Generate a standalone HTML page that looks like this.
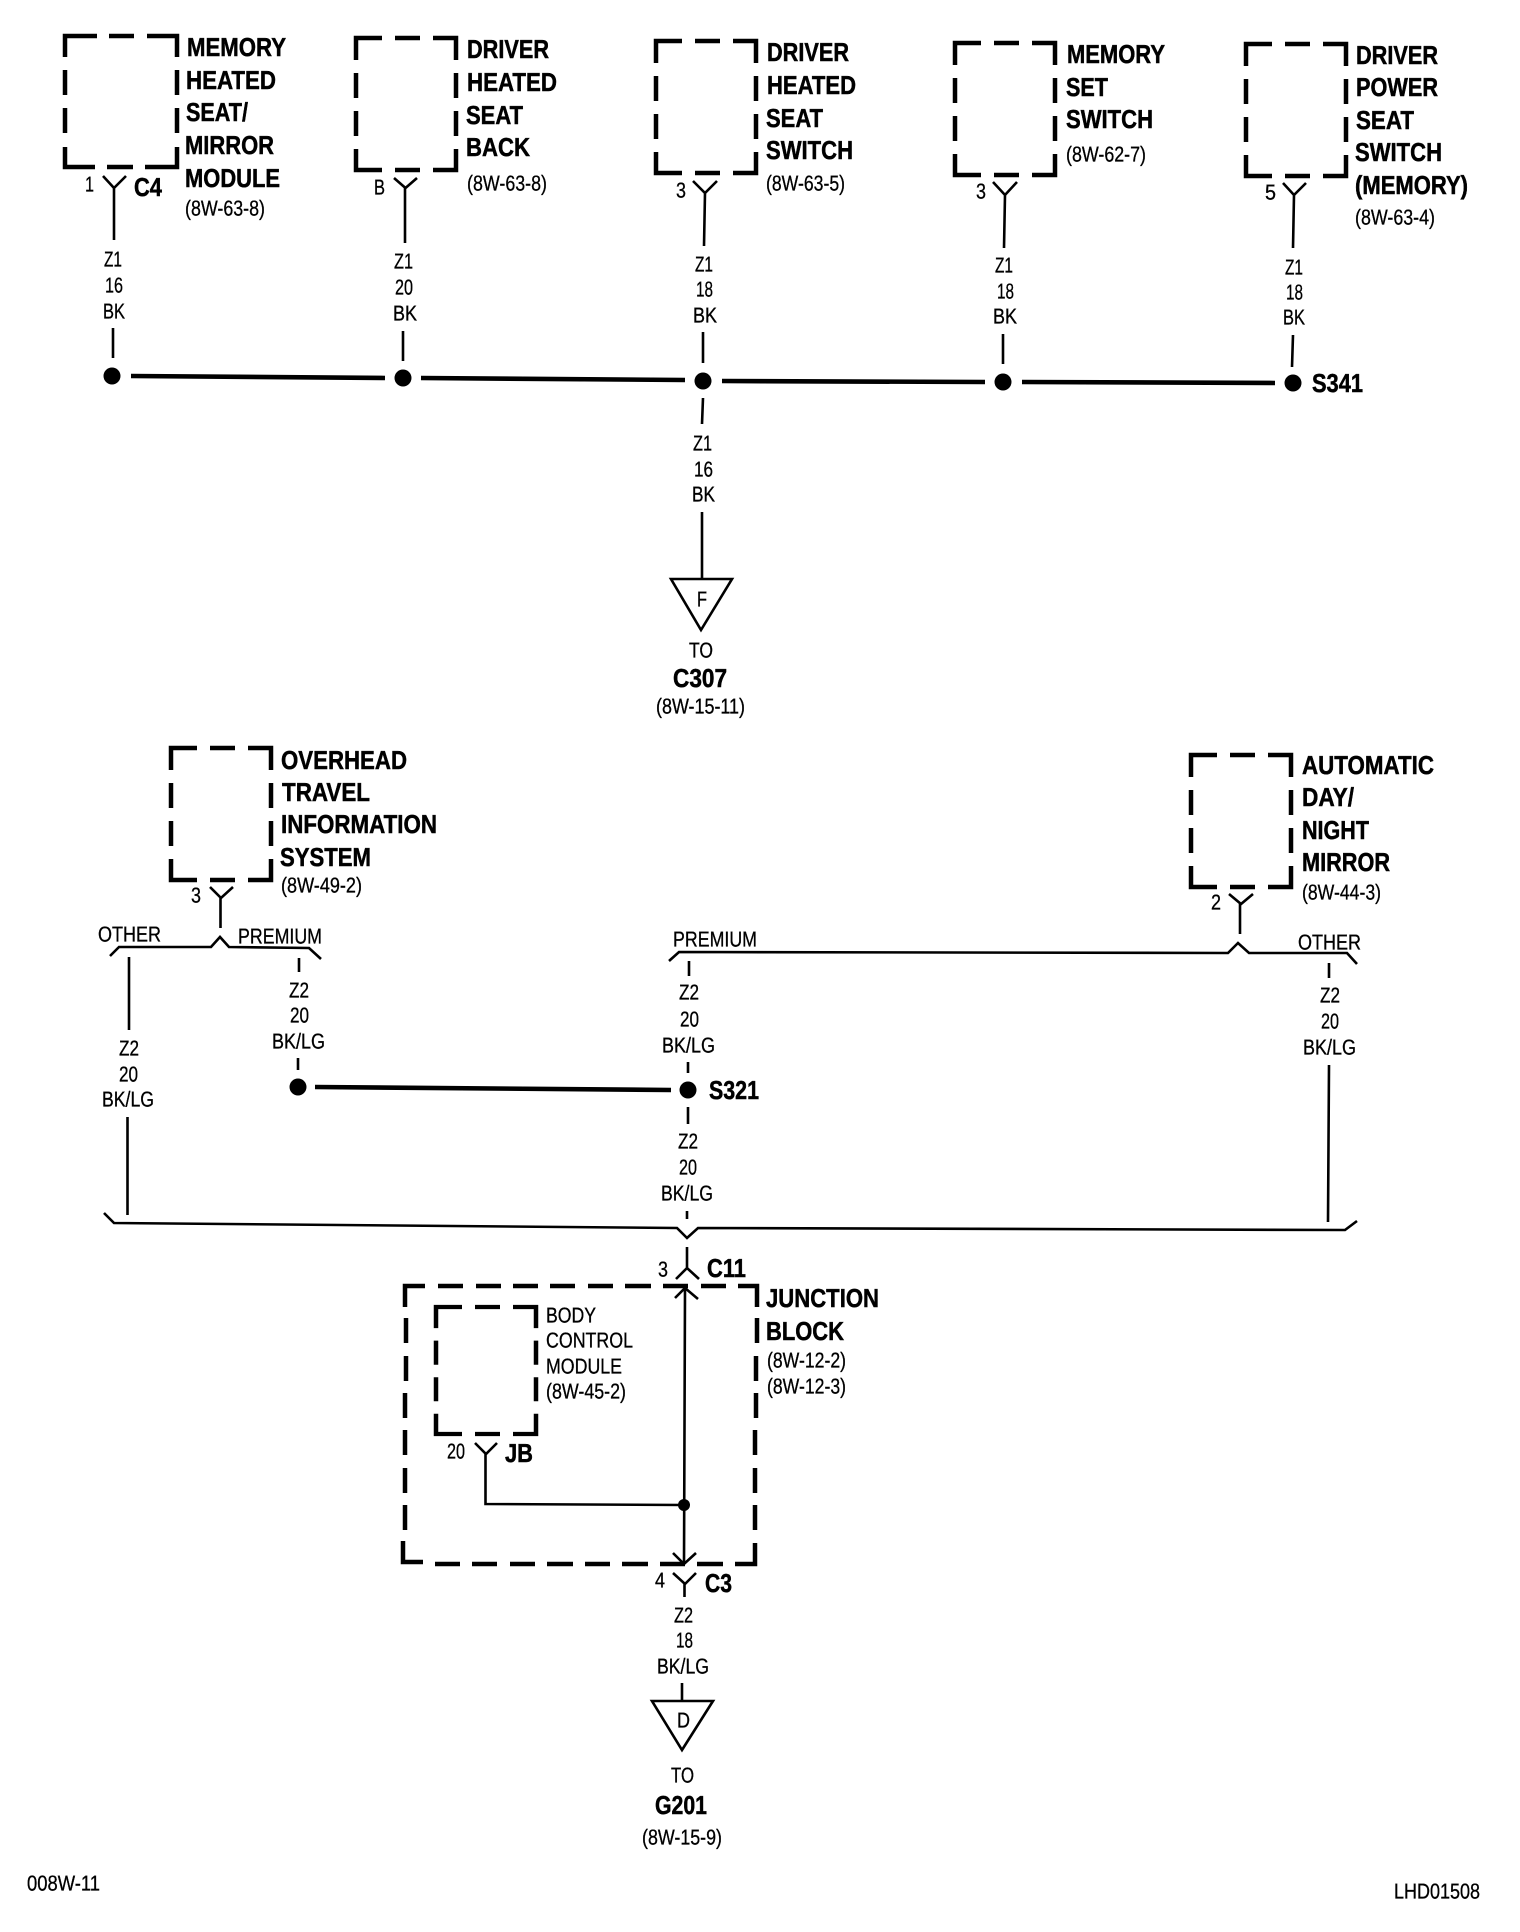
<!DOCTYPE html>
<html lang="en">
<head>
<meta charset="utf-8">
<title>Wiring diagram 008W-11</title>
<style>
html,body{margin:0;padding:0;background:#fff}
svg{display:block}
text{font-family:"Liberation Sans",sans-serif;fill:#000;text-rendering:geometricPrecision}
.b{font-size:26px;font-weight:700;stroke:#000;stroke-width:.5px}
.r{font-size:21.500px;stroke:#000;stroke-width:.3px}
.f{fill:none;stroke:#000;stroke-linecap:butt;stroke-linejoin:miter}
.box{stroke-width:4.5}
.w{stroke-width:2.6}
.h{stroke-width:4.6}
</style>
</head>
<body>
<svg xmlns="http://www.w3.org/2000/svg" width="1520" height="1932" viewBox="0 0 1520 1932">
<rect width="1520" height="1932" fill="#fff"/>
<defs>
<path id="bx" d="M0 22V0H26M39 0H64M77 0H100V22M100 35V60M100 73V98M100 111V132H77M64 132H39M26 132H0V111M0 98V73M0 60V35"/>
</defs>

<!-- boxes -->
<g class="f box">
<path d="M65 57V36H97M109 36H134M147 36H177V57M177 70V95M177 108V133M177 147V167H145M133 167H107M95 167H65V147M65 133V108M65 95V70"/>
<use href="#bx" transform="translate(356 38)"/>
<use href="#bx" transform="translate(656 41)"/>
<use href="#bx" transform="translate(955 43)"/>
<use href="#bx" transform="translate(1246 44)"/>
<use href="#bx" transform="translate(171 748)"/>
<use href="#bx" transform="translate(1191 755)"/>
<use href="#bx" transform="translate(436 1307) scale(1 .962)"/>
<path d="M405 1307V1286H425M438 1286H463M476 1286H501M513 1286H538M550 1286H575M588 1286H613M625 1286H651M663 1286H688M701 1286H726M738 1286H757V1307M757 1318V1343M756 1356V1381M756 1393V1418M755 1430V1455M755 1468V1493M755 1505V1530M755 1543V1564H735M723 1564H697M685 1564H660M648 1564H622M610 1564H585M573 1564H547M535 1564H510M497 1564H472M460 1564H435M423 1562H403V1541M405 1530V1505M405 1493V1468M405 1455V1430M405 1418V1393M406 1381V1356M406 1343V1318"/>
</g>

<!-- connectors and thin wires -->
<g class="f w">
<path d="M103 176L114 188L126 176M114 188V240M113 328V358"/>
<path d="M394 178L405.500 188L417 178M405 188V243M403 331V361"/>
<path d="M693 181L705 193L717 181M705 193L704 246M703 332V363"/>
<path d="M993 182L1005 195L1017 182M1005 195L1004 248M1003 334V364"/>
<path d="M1283 183L1294 195L1306 183M1294 195L1293 248M1293 335L1292 367"/>
<path d="M703 398L702 424M702 512V579"/>
<path d="M671 579H732L701 630Z"/>
<path d="M210 887L221 898L233 887M220.500 898V928"/>
<path d="M110 956L119 947H211L220 937L229 947L309 948L321 959"/>
<path d="M129 957V1030M299 958V972M298 1058V1070M127.500 1117V1215"/>
<path d="M1229 894L1241 904L1253 894M1240 904V934"/>
<path d="M669 961L679 952L1228 953L1238 943L1249 953H1347L1357 964"/>
<path d="M689 961V976M688 1062V1073M688 1107V1124M687 1211V1219M1329 963V978M1329 1065L1328 1222"/>
<path d="M104 1213L114 1223L677 1228L687 1238L698 1228L1345 1230L1357 1221"/>
<path d="M687 1247V1268M676 1279L687 1268L699 1279"/>
<path d="M475 1443L486 1454L497 1443M485.500 1454V1504L684 1505"/>
<path d="M685 1289L684 1564M675 1298L685 1288L698 1299M673 1553L684 1564L696 1553"/>
<path d="M673 1573L685 1584L696 1573M684.500 1584V1597M682 1683V1701"/>
<path d="M652 1701H713L682 1750Z"/>
</g>

<!-- thick lines -->
<g class="f h">
<path d="M131 376L385 378M421 378L685 380M722 381L985 382M1022 382L1275 383M315 1087L671 1090"/>
</g>

<!-- splices -->
<g>
<circle cx="112" cy="376" r="8.500"/>
<circle cx="403" cy="378" r="8.500"/>
<circle cx="703" cy="381" r="8.500"/>
<circle cx="1003" cy="382" r="8.500"/>
<circle cx="1293" cy="383" r="8.500"/>
<circle cx="298" cy="1087" r="8.500"/>
<circle cx="688" cy="1090" r="8.500"/>
<circle cx="684" cy="1505" r="6"/>
</g>

<!-- bold labels -->
<g class="b" transform="translate(-1 -1)">
<text x="188" y="57" textLength="99" lengthAdjust="spacingAndGlyphs">MEMORY</text>
<text x="187" y="90" textLength="90" lengthAdjust="spacingAndGlyphs">HEATED</text>
<text x="187" y="122" textLength="62" lengthAdjust="spacingAndGlyphs">SEAT/</text>
<text x="186" y="155" textLength="89" lengthAdjust="spacingAndGlyphs">MIRROR</text>
<text x="186" y="188" textLength="95" lengthAdjust="spacingAndGlyphs">MODULE</text>
<text x="135" y="197" textLength="28" lengthAdjust="spacingAndGlyphs">C4</text>

<text x="468" y="59" textLength="82" lengthAdjust="spacingAndGlyphs">DRIVER</text>
<text x="468" y="92" textLength="90" lengthAdjust="spacingAndGlyphs">HEATED</text>
<text x="467" y="125" textLength="57" lengthAdjust="spacingAndGlyphs">SEAT</text>
<text x="467" y="157" textLength="64" lengthAdjust="spacingAndGlyphs">BACK</text>

<text x="768" y="62" textLength="82" lengthAdjust="spacingAndGlyphs">DRIVER</text>
<text x="768" y="95" textLength="89" lengthAdjust="spacingAndGlyphs">HEATED</text>
<text x="767" y="128" textLength="57" lengthAdjust="spacingAndGlyphs">SEAT</text>
<text x="767" y="160" textLength="87" lengthAdjust="spacingAndGlyphs">SWITCH</text>

<text x="1068" y="64" textLength="98" lengthAdjust="spacingAndGlyphs">MEMORY</text>
<text x="1067" y="97" textLength="42" lengthAdjust="spacingAndGlyphs">SET</text>
<text x="1067" y="129" textLength="87" lengthAdjust="spacingAndGlyphs">SWITCH</text>

<text x="1357" y="65" textLength="82" lengthAdjust="spacingAndGlyphs">DRIVER</text>
<text x="1357" y="97" textLength="82" lengthAdjust="spacingAndGlyphs">POWER</text>
<text x="1357" y="130" textLength="58" lengthAdjust="spacingAndGlyphs">SEAT</text>
<text x="1356" y="162" textLength="87" lengthAdjust="spacingAndGlyphs">SWITCH</text>
<text x="1356" y="195" textLength="113" lengthAdjust="spacingAndGlyphs">(MEMORY)</text>
<text x="1313" y="393" textLength="51" lengthAdjust="spacingAndGlyphs">S341</text>

<text x="674" y="688" textLength="54" lengthAdjust="spacingAndGlyphs">C307</text>

<text x="282" y="770" textLength="126" lengthAdjust="spacingAndGlyphs">OVERHEAD</text>
<text x="283" y="802" textLength="88" lengthAdjust="spacingAndGlyphs">TRAVEL</text>
<text x="282" y="834" textLength="156" lengthAdjust="spacingAndGlyphs">INFORMATION</text>
<text x="281" y="867" textLength="91" lengthAdjust="spacingAndGlyphs">SYSTEM</text>

<text x="1303" y="775" textLength="132" lengthAdjust="spacingAndGlyphs">AUTOMATIC</text>
<text x="1303" y="807" textLength="52" lengthAdjust="spacingAndGlyphs">DAY/</text>
<text x="1303" y="840" textLength="67" lengthAdjust="spacingAndGlyphs">NIGHT</text>
<text x="1303" y="872" textLength="88" lengthAdjust="spacingAndGlyphs">MIRROR</text>

<text x="710" y="1100" textLength="50" lengthAdjust="spacingAndGlyphs">S321</text>
<text x="708" y="1278" textLength="39" lengthAdjust="spacingAndGlyphs">C11</text>
<text x="767" y="1308" textLength="113" lengthAdjust="spacingAndGlyphs">JUNCTION</text>
<text x="767" y="1341" textLength="78" lengthAdjust="spacingAndGlyphs">BLOCK</text>
<text x="506" y="1463" textLength="28" lengthAdjust="spacingAndGlyphs">JB</text>
<text x="706" y="1593" textLength="27" lengthAdjust="spacingAndGlyphs">C3</text>
<text x="656" y="1815" textLength="52" lengthAdjust="spacingAndGlyphs">G201</text>
</g>

<!-- regular labels -->
<g class="r" transform="translate(0 -.5)">
<text x="185" y="216" textLength="80" lengthAdjust="spacingAndGlyphs">(8W-63-8)</text>
<text x="467" y="191" textLength="80" lengthAdjust="spacingAndGlyphs">(8W-63-8)</text>
<text x="766" y="191" textLength="79" lengthAdjust="spacingAndGlyphs">(8W-63-5)</text>
<text x="1066" y="162" textLength="80" lengthAdjust="spacingAndGlyphs">(8W-62-7)</text>
<text x="1355" y="225" textLength="80" lengthAdjust="spacingAndGlyphs">(8W-63-4)</text>

<text x="85" y="192" textLength="9" lengthAdjust="spacingAndGlyphs">1</text>
<text x="374" y="195" textLength="11" lengthAdjust="spacingAndGlyphs">B</text>
<text x="676" y="198" textLength="10" lengthAdjust="spacingAndGlyphs">3</text>
<text x="976" y="199" textLength="10" lengthAdjust="spacingAndGlyphs">3</text>
<text x="1265" y="200" textLength="11" lengthAdjust="spacingAndGlyphs">5</text>

<text x="104" y="267" textLength="18" lengthAdjust="spacingAndGlyphs">Z1</text>
<text x="105" y="293" textLength="18" lengthAdjust="spacingAndGlyphs">16</text>
<text x="103" y="319" textLength="22" lengthAdjust="spacingAndGlyphs">BK</text>

<text x="394" y="269" textLength="19" lengthAdjust="spacingAndGlyphs">Z1</text>
<text x="395" y="295" textLength="18" lengthAdjust="spacingAndGlyphs">20</text>
<text x="393" y="321" textLength="24" lengthAdjust="spacingAndGlyphs">BK</text>

<text x="695" y="272" textLength="18" lengthAdjust="spacingAndGlyphs">Z1</text>
<text x="696" y="297" textLength="17" lengthAdjust="spacingAndGlyphs">18</text>
<text x="693" y="323" textLength="24" lengthAdjust="spacingAndGlyphs">BK</text>

<text x="995" y="273" textLength="18" lengthAdjust="spacingAndGlyphs">Z1</text>
<text x="997" y="299" textLength="17" lengthAdjust="spacingAndGlyphs">18</text>
<text x="993" y="324" textLength="24" lengthAdjust="spacingAndGlyphs">BK</text>

<text x="1285" y="275" textLength="18" lengthAdjust="spacingAndGlyphs">Z1</text>
<text x="1286" y="300" textLength="17" lengthAdjust="spacingAndGlyphs">18</text>
<text x="1283" y="325" textLength="22" lengthAdjust="spacingAndGlyphs">BK</text>

<text x="693" y="451" textLength="19" lengthAdjust="spacingAndGlyphs">Z1</text>
<text x="694" y="477" textLength="19" lengthAdjust="spacingAndGlyphs">16</text>
<text x="692" y="502" textLength="23" lengthAdjust="spacingAndGlyphs">BK</text>

<text x="697" y="607" textLength="10" lengthAdjust="spacingAndGlyphs">F</text>
<text x="689" y="658" textLength="24" lengthAdjust="spacingAndGlyphs">TO</text>
<text x="656" y="714" textLength="89" lengthAdjust="spacingAndGlyphs">(8W-15-11)</text>

<text x="281" y="893" textLength="81" lengthAdjust="spacingAndGlyphs">(8W-49-2)</text>
<text x="191" y="903" textLength="10" lengthAdjust="spacingAndGlyphs">3</text>
<text x="98" y="942" textLength="63" lengthAdjust="spacingAndGlyphs">OTHER</text>
<text x="238" y="944" textLength="84" lengthAdjust="spacingAndGlyphs">PREMIUM</text>

<text x="289" y="998" textLength="20" lengthAdjust="spacingAndGlyphs">Z2</text>
<text x="290" y="1023" textLength="19" lengthAdjust="spacingAndGlyphs">20</text>
<text x="272" y="1049" textLength="53" lengthAdjust="spacingAndGlyphs">BK/LG</text>

<text x="119" y="1056" textLength="20" lengthAdjust="spacingAndGlyphs">Z2</text>
<text x="119" y="1082" textLength="19" lengthAdjust="spacingAndGlyphs">20</text>
<text x="102" y="1107" textLength="52" lengthAdjust="spacingAndGlyphs">BK/LG</text>

<text x="673" y="947" textLength="84" lengthAdjust="spacingAndGlyphs">PREMIUM</text>
<text x="679" y="1000" textLength="20" lengthAdjust="spacingAndGlyphs">Z2</text>
<text x="680" y="1027" textLength="19" lengthAdjust="spacingAndGlyphs">20</text>
<text x="662" y="1053" textLength="53" lengthAdjust="spacingAndGlyphs">BK/LG</text>

<text x="678" y="1149" textLength="20" lengthAdjust="spacingAndGlyphs">Z2</text>
<text x="679" y="1175" textLength="18" lengthAdjust="spacingAndGlyphs">20</text>
<text x="661" y="1201" textLength="52" lengthAdjust="spacingAndGlyphs">BK/LG</text>

<text x="1302" y="900" textLength="79" lengthAdjust="spacingAndGlyphs">(8W-44-3)</text>
<text x="1211" y="910" textLength="10" lengthAdjust="spacingAndGlyphs">2</text>
<text x="1298" y="950" textLength="63" lengthAdjust="spacingAndGlyphs">OTHER</text>
<text x="1320" y="1003" textLength="20" lengthAdjust="spacingAndGlyphs">Z2</text>
<text x="1321" y="1029" textLength="18" lengthAdjust="spacingAndGlyphs">20</text>
<text x="1303" y="1055" textLength="53" lengthAdjust="spacingAndGlyphs">BK/LG</text>

<text x="658" y="1277" textLength="10" lengthAdjust="spacingAndGlyphs">3</text>

<text x="546" y="1323" textLength="50" lengthAdjust="spacingAndGlyphs">BODY</text>
<text x="546" y="1348" textLength="87" lengthAdjust="spacingAndGlyphs">CONTROL</text>
<text x="546" y="1374" textLength="76" lengthAdjust="spacingAndGlyphs">MODULE</text>
<text x="546" y="1399" textLength="80" lengthAdjust="spacingAndGlyphs">(8W-45-2)</text>
<text x="767" y="1368" textLength="79" lengthAdjust="spacingAndGlyphs">(8W-12-2)</text>
<text x="767" y="1394" textLength="79" lengthAdjust="spacingAndGlyphs">(8W-12-3)</text>
<text x="447" y="1459" textLength="18" lengthAdjust="spacingAndGlyphs">20</text>
<text x="655" y="1588" textLength="10" lengthAdjust="spacingAndGlyphs">4</text>

<text x="674" y="1623" textLength="19" lengthAdjust="spacingAndGlyphs">Z2</text>
<text x="676" y="1648" textLength="17" lengthAdjust="spacingAndGlyphs">18</text>
<text x="657" y="1674" textLength="52" lengthAdjust="spacingAndGlyphs">BK/LG</text>
<text x="677" y="1728" textLength="13" lengthAdjust="spacingAndGlyphs">D</text>
<text x="671" y="1783" textLength="23" lengthAdjust="spacingAndGlyphs">TO</text>
<text x="642" y="1845" textLength="80" lengthAdjust="spacingAndGlyphs">(8W-15-9)</text>

<text x="27" y="1891" textLength="73" lengthAdjust="spacingAndGlyphs">008W-11</text>
<text x="1394" y="1899" textLength="86" lengthAdjust="spacingAndGlyphs">LHD01508</text>
</g>
</svg>
</body>
</html>
